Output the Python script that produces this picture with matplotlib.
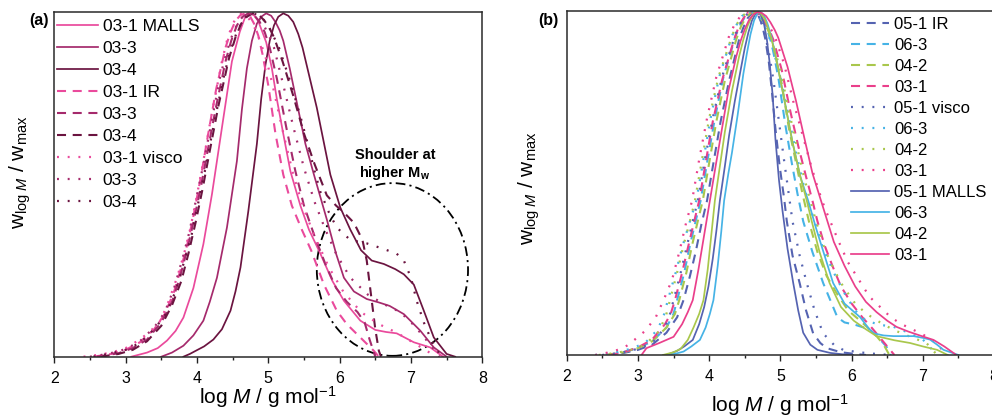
import matplotlib
matplotlib.use('Agg')
import matplotlib.pyplot as plt
from matplotlib.patches import Ellipse
from matplotlib.ticker import MultipleLocator

plt.rcParams['font.family'] = ['Liberation Sans', 'DejaVu Sans']
plt.rcParams['mathtext.fontset'] = 'custom'
plt.rcParams['mathtext.rm'] = 'Liberation Sans'
plt.rcParams['mathtext.it'] = 'Liberation Sans:italic'
plt.rcParams['mathtext.bf'] = 'Liberation Sans:bold'
plt.rcParams['lines.scale_dashes'] = False

# ---------------- data: panel (a) (log M, w/wmax) ----------------
a_malls_031 = [(3.08,0),(3.3,0.012),(3.45,0.025),(3.58,0.047),(3.7,0.075),(3.81,0.114),(3.95,0.2),(4.09,0.328),(4.21,0.473),(4.35,0.667),(4.49,0.86),(4.6,0.946),(4.67,0.986),(4.74,1.0),(4.8,0.994),(4.86,0.977),(4.97,0.916),(5.05,0.84),(5.12,0.75),(5.2,0.66),(5.31,0.54),(5.45,0.44),(5.57,0.37),(5.73,0.3),(5.9,0.22),(6.06,0.163),(6.29,0.105),(6.5,0.078),(6.65,0.072),(6.8,0.068),(6.92,0.055),(7.04,0.042),(7.27,0.027),(7.45,0)]
a_malls_033 = [(3.5,0),(3.65,0.012),(3.81,0.032),(3.95,0.062),(4.09,0.105),(4.18,0.16),(4.28,0.23),(4.42,0.376),(4.56,0.57),(4.63,0.72),(4.7,0.84),(4.77,0.92),(4.84,0.97),(4.9,0.99),(4.97,1.0),(5.04,0.993),(5.1,0.975),(5.16,0.95),(5.21,0.92),(5.3,0.84),(5.4,0.74),(5.52,0.62),(5.64,0.53),(5.82,0.4),(5.95,0.3),(6.06,0.23),(6.2,0.19),(6.38,0.168),(6.55,0.158),(6.7,0.148),(6.9,0.124),(7.13,0.076),(7.32,0.027),(7.5,0)]
a_malls_034 = [(3.81,0),(3.9,0.008),(3.99,0.018),(4.1,0.03),(4.23,0.05),(4.35,0.08),(4.47,0.134),(4.54,0.19),(4.61,0.26),(4.72,0.424),(4.84,0.62),(4.9,0.75),(4.96,0.85),(5.02,0.92),(5.08,0.965),(5.14,0.99),(5.21,1.0),(5.28,0.993),(5.35,0.975),(5.42,0.94),(5.48,0.9),(5.56,0.83),(5.68,0.725),(5.87,0.53),(6.01,0.434),(6.15,0.37),(6.3,0.31),(6.45,0.28),(6.62,0.27),(6.78,0.255),(6.9,0.24),(7.04,0.21),(7.18,0.134),(7.32,0.056),(7.5,0.008),(7.62,0)]
a_ir_031 = [(2.55,0),(2.8,0.008),(3.0,0.02),(3.2,0.042),(3.4,0.08),(3.55,0.125),(3.68,0.19),(3.78,0.26),(3.88,0.34),(3.97,0.43),(4.06,0.53),(4.15,0.64),(4.27,0.78),(4.4,0.9),(4.47,0.945),(4.54,0.978),(4.61,0.995),(4.68,1.0),(4.74,0.993),(4.8,0.97),(4.86,0.935),(4.92,0.88),(5.0,0.79),(5.1,0.65),(5.21,0.53),(5.33,0.44),(5.47,0.37),(5.6,0.31),(5.78,0.21),(5.96,0.134),(6.1,0.095),(6.29,0.056),(6.48,0.017),(6.55,0)]
a_ir_033 = [(2.6,0),(2.9,0.01),(3.1,0.025),(3.3,0.05),(3.5,0.1),(3.65,0.16),(3.76,0.23),(3.86,0.31),(3.96,0.4),(4.06,0.5),(4.15,0.6),(4.26,0.72),(4.4,0.86),(4.48,0.92),(4.56,0.965),(4.64,0.99),(4.72,1.0),(4.8,0.995),(4.88,0.975),(4.95,0.945),(5.02,0.9),(5.12,0.81),(5.25,0.67),(5.38,0.54),(5.5,0.44),(5.65,0.35),(5.8,0.27),(5.95,0.2),(6.1,0.16),(6.25,0.13),(6.35,0.1),(6.42,0.05),(6.5,0)]
a_ir_034 = [(2.65,0),(2.9,0.008),(3.1,0.02),(3.3,0.045),(3.5,0.09),(3.65,0.15),(3.78,0.22),(3.88,0.3),(3.98,0.39),(4.08,0.49),(4.18,0.6),(4.3,0.73),(4.45,0.87),(4.54,0.93),(4.62,0.97),(4.7,0.99),(4.78,1.0),(4.86,0.997),(4.94,0.98),(5.01,0.96),(5.08,0.93),(5.2,0.86),(5.35,0.76),(5.5,0.65),(5.65,0.56),(5.82,0.47),(5.95,0.44),(6.06,0.42),(6.2,0.39),(6.32,0.34),(6.38,0.28),(6.44,0.18),(6.5,0.08),(6.55,0.017),(6.58,0)]
a_visco_031 = [(2.41,0),(2.6,0.005),(2.8,0.012),(3.0,0.025),(3.2,0.05),(3.35,0.075),(3.49,0.105),(3.6,0.16),(3.72,0.23),(3.82,0.3),(3.91,0.376),(4.0,0.47),(4.09,0.57),(4.2,0.7),(4.35,0.86),(4.42,0.92),(4.49,0.965),(4.56,0.99),(4.62,1.0),(4.69,0.995),(4.76,0.975),(4.83,0.95),(4.9,0.91),(4.98,0.86),(5.05,0.8),(5.2,0.66),(5.35,0.53),(5.5,0.43),(5.65,0.35),(5.85,0.26),(6.05,0.19),(6.3,0.13),(6.55,0.095),(6.8,0.07),(7.0,0.045),(7.2,0.02),(7.35,0)]
a_visco_033 = [(2.5,0),(2.75,0.008),(3.0,0.022),(3.2,0.045),(3.4,0.085),(3.55,0.13),(3.68,0.2),(3.79,0.28),(3.89,0.36),(3.99,0.46),(4.09,0.56),(4.2,0.68),(4.33,0.82),(4.42,0.89),(4.5,0.94),(4.58,0.975),(4.66,0.995),(4.73,1.0),(4.8,0.995),(4.88,0.98),(4.95,0.96),(5.02,0.93),(5.08,0.9),(5.2,0.8),(5.35,0.67),(5.5,0.55),(5.65,0.45),(5.8,0.37),(5.95,0.3),(6.15,0.23),(6.4,0.18),(6.65,0.15),(6.85,0.13),(7.05,0.09),(7.25,0.04),(7.4,0)]
a_visco_034 = [(2.55,0),(2.8,0.01),(3.0,0.02),(3.2,0.04),(3.4,0.08),(3.55,0.12),(3.7,0.19),(3.81,0.27),(3.92,0.35),(4.02,0.45),(4.12,0.55),(4.23,0.67),(4.37,0.81),(4.46,0.885),(4.55,0.94),(4.63,0.975),(4.71,0.995),(4.78,1.0),(4.86,0.995),(4.94,0.98),(5.01,0.96),(5.08,0.93),(5.15,0.9),(5.31,0.8),(5.45,0.7),(5.54,0.63),(5.65,0.54),(5.73,0.48),(5.85,0.42),(5.96,0.376),(6.15,0.34),(6.38,0.33),(6.6,0.315),(6.8,0.3),(6.9,0.28),(7.0,0.23),(7.08,0.163),(7.18,0.1),(7.27,0.056),(7.42,0)]

# ---------------- data: panel (b) ----------------
b_ir_051 = [(2.55,0),(2.8,0.006),(3.0,0.015),(3.2,0.03),(3.4,0.065),(3.55,0.11),(3.64,0.16),(3.73,0.23),(3.81,0.3),(3.89,0.38),(3.97,0.45),(4.06,0.56),(4.16,0.68),(4.28,0.8),(4.42,0.92),(4.48,0.955),(4.54,0.982),(4.6,0.997),(4.64,1.0),(4.69,0.99),(4.74,0.965),(4.79,0.92),(4.84,0.85),(4.88,0.77),(4.93,0.66),(4.99,0.55),(5.05,0.46),(5.09,0.39),(5.17,0.29),(5.27,0.21),(5.36,0.13),(5.46,0.063),(5.56,0.035),(5.65,0.02),(5.85,0.008),(6.05,0.003),(6.2,0)]
b_ir_063 = [(2.6,0),(2.8,0.008),(3.0,0.02),(3.2,0.04),(3.4,0.08),(3.5,0.12),(3.55,0.16),(3.65,0.24),(3.73,0.32),(3.81,0.39),(3.88,0.45),(3.97,0.56),(4.08,0.69),(4.2,0.81),(4.37,0.93),(4.44,0.965),(4.51,0.988),(4.58,0.999),(4.64,1.0),(4.7,0.993),(4.76,0.975),(4.82,0.945),(4.88,0.905),(4.97,0.81),(5.07,0.67),(5.16,0.56),(5.24,0.47),(5.32,0.39),(5.45,0.3),(5.6,0.21),(5.72,0.15),(5.8,0.11),(5.9,0.095),(6.05,0.088),(6.25,0.075),(6.38,0.05),(6.49,0.024),(6.55,0)]
b_ir_042 = [(2.55,0),(2.8,0.008),(3.0,0.02),(3.2,0.04),(3.4,0.08),(3.52,0.12),(3.58,0.16),(3.68,0.24),(3.76,0.32),(3.84,0.39),(3.91,0.45),(4.0,0.56),(4.1,0.68),(4.22,0.8),(4.38,0.92),(4.45,0.96),(4.52,0.985),(4.59,0.998),(4.65,1.0),(4.72,0.99),(4.78,0.97),(4.84,0.94),(4.9,0.9),(5.02,0.79),(5.12,0.66),(5.22,0.56),(5.31,0.47),(5.4,0.39),(5.52,0.3),(5.65,0.23),(5.79,0.18),(5.95,0.13),(6.12,0.1),(6.25,0.075),(6.35,0.055),(6.45,0.03),(6.53,0)]
b_ir_031 = [(2.6,0),(2.8,0.008),(3.0,0.022),(3.2,0.045),(3.38,0.09),(3.46,0.12),(3.52,0.16),(3.62,0.24),(3.71,0.32),(3.79,0.39),(3.86,0.45),(3.95,0.56),(4.05,0.68),(4.18,0.8),(4.35,0.92),(4.42,0.96),(4.49,0.985),(4.56,0.998),(4.63,1.0),(4.7,0.993),(4.77,0.975),(4.84,0.95),(4.9,0.92),(5.02,0.83),(5.14,0.71),(5.25,0.61),(5.36,0.52),(5.45,0.45),(5.52,0.39),(5.62,0.32),(5.73,0.26),(5.85,0.2),(6.0,0.15),(6.15,0.11),(6.28,0.08),(6.4,0.05),(6.5,0.025),(6.6,0)]
b_visco_051 = [(2.5,0),(2.75,0.006),(3.0,0.018),(3.2,0.035),(3.38,0.08),(3.45,0.12),(3.5,0.16),(3.6,0.24),(3.69,0.32),(3.77,0.39),(3.84,0.45),(3.94,0.57),(4.05,0.69),(4.18,0.81),(4.36,0.93),(4.43,0.965),(4.5,0.988),(4.56,0.998),(4.61,1.0),(4.67,0.993),(4.73,0.97),(4.79,0.93),(4.85,0.87),(4.91,0.79),(4.98,0.68),(5.05,0.57),(5.11,0.48),(5.17,0.39),(5.27,0.29),(5.37,0.21),(5.48,0.13),(5.6,0.063),(5.75,0.03),(5.88,0.015),(6.1,0.008),(6.35,0.003),(6.55,0)]
b_visco_063 = [(2.4,0),(2.65,0.006),(2.9,0.018),(3.1,0.035),(3.28,0.075),(3.37,0.12),(3.42,0.16),(3.53,0.24),(3.63,0.32),(3.73,0.39),(3.82,0.45),(3.92,0.57),(4.02,0.69),(4.14,0.81),(4.32,0.93),(4.39,0.965),(4.46,0.988),(4.53,0.998),(4.6,1.0),(4.67,0.993),(4.74,0.975),(4.81,0.945),(4.88,0.905),(5.0,0.81),(5.12,0.69),(5.22,0.59),(5.32,0.5),(5.4,0.44),(5.48,0.39),(5.6,0.31),(5.75,0.24),(5.9,0.18),(6.05,0.13),(6.2,0.1),(6.4,0.088),(6.59,0.082),(6.8,0.065),(7.0,0.045),(7.2,0)]
b_visco_042 = [(2.45,0),(2.7,0.006),(2.9,0.015),(3.1,0.03),(3.3,0.07),(3.4,0.12),(3.45,0.16),(3.55,0.24),(3.64,0.32),(3.73,0.39),(3.8,0.45),(3.9,0.57),(4.0,0.69),(4.13,0.81),(4.32,0.93),(4.39,0.965),(4.46,0.988),(4.53,0.998),(4.6,1.0),(4.67,0.993),(4.74,0.978),(4.81,0.955),(4.88,0.92),(5.0,0.83),(5.12,0.71),(5.23,0.61),(5.33,0.52),(5.42,0.45),(5.5,0.39),(5.62,0.31),(5.75,0.25),(5.88,0.2),(6.05,0.15),(6.21,0.12),(6.4,0.095),(6.59,0.073),(6.8,0.055),(7.05,0.035),(7.2,0)]
b_visco_031 = [(2.4,0),(2.6,0.008),(2.8,0.02),(2.95,0.044),(3.1,0.07),(3.25,0.11),(3.36,0.16),(3.48,0.22),(3.58,0.3),(3.67,0.38),(3.76,0.45),(3.86,0.57),(3.97,0.69),(4.1,0.81),(4.28,0.93),(4.36,0.965),(4.44,0.988),(4.52,0.998),(4.6,1.0),(4.68,0.994),(4.76,0.98),(4.84,0.96),(4.92,0.93),(5.05,0.85),(5.18,0.74),(5.3,0.65),(5.42,0.56),(5.52,0.49),(5.62,0.43),(5.7,0.39),(5.82,0.33),(5.95,0.27),(6.1,0.22),(6.25,0.17),(6.4,0.14),(6.55,0.11),(6.7,0.09),(6.85,0.075),(7.0,0.06),(7.15,0.04),(7.35,0)]
b_malls_051 = [(3.4,0),(3.55,0.012),(3.65,0.025),(3.77,0.044),(3.86,0.09),(3.93,0.14),(3.99,0.2),(4.05,0.28),(4.1,0.36),(4.15,0.45),(4.22,0.55),(4.28,0.64),(4.36,0.74),(4.45,0.84),(4.5,0.895),(4.55,0.94),(4.6,0.975),(4.65,0.995),(4.69,1.0),(4.73,0.99),(4.77,0.965),(4.81,0.92),(4.85,0.85),(4.89,0.76),(4.93,0.63),(4.98,0.51),(5.03,0.42),(5.1,0.31),(5.18,0.21),(5.25,0.13),(5.32,0.065),(5.42,0.03),(5.52,0.015),(5.7,0.006),(5.88,0.002),(6.02,0)]
b_malls_063 = [(3.4,0),(3.55,0.005),(3.64,0.01),(3.75,0.025),(3.87,0.044),(3.95,0.08),(4.01,0.12),(4.06,0.16),(4.12,0.26),(4.17,0.36),(4.21,0.45),(4.27,0.53),(4.32,0.59),(4.4,0.7),(4.48,0.82),(4.53,0.88),(4.58,0.935),(4.63,0.975),(4.68,0.997),(4.72,1.0),(4.77,0.99),(4.82,0.965),(4.87,0.93),(4.92,0.885),(5.05,0.75),(5.17,0.62),(5.28,0.52),(5.39,0.45),(5.5,0.37),(5.62,0.29),(5.74,0.21),(5.9,0.15),(6.12,0.11),(6.25,0.075),(6.31,0.063),(6.45,0.057),(6.59,0.055),(6.87,0.055),(7.0,0.05),(7.1,0.045),(7.2,0.03),(7.29,0.015),(7.5,0)]
b_malls_042 = [(3.35,0),(3.5,0.008),(3.6,0.018),(3.7,0.044),(3.78,0.08),(3.86,0.12),(3.92,0.16),(3.98,0.25),(4.03,0.35),(4.08,0.45),(4.15,0.55),(4.22,0.65),(4.32,0.77),(4.42,0.87),(4.48,0.92),(4.54,0.96),(4.6,0.987),(4.66,1.0),(4.72,0.997),(4.78,0.98),(4.85,0.94),(4.92,0.885),(5.05,0.75),(5.17,0.62),(5.28,0.52),(5.37,0.45),(5.44,0.39),(5.55,0.3),(5.69,0.21),(5.85,0.14),(6.03,0.1),(6.2,0.075),(6.35,0.055),(6.6,0.043),(6.82,0.035),(7.0,0.025),(7.2,0.015),(7.35,0)]
b_malls_031 = [(3.05,0),(3.12,0.02),(3.3,0.035),(3.5,0.053),(3.62,0.09),(3.7,0.125),(3.77,0.16),(3.85,0.25),(3.93,0.35),(4.01,0.45),(4.09,0.55),(4.18,0.66),(4.27,0.77),(4.38,0.87),(4.44,0.915),(4.5,0.95),(4.56,0.977),(4.62,0.993),(4.68,1.0),(4.74,0.997),(4.8,0.988),(4.86,0.97),(4.92,0.948),(4.97,0.925),(5.1,0.84),(5.22,0.74),(5.35,0.62),(5.45,0.53),(5.6,0.43),(5.75,0.33),(5.9,0.26),(6.05,0.2),(6.2,0.155),(6.35,0.125),(6.5,0.1),(6.63,0.082),(6.8,0.068),(7.0,0.054),(7.15,0.044),(7.3,0.025),(7.47,0)]

a_labels = ['03-1 MALLS', '03-3', '03-4', '03-1 IR', '03-3', '03-4', '03-1 visco', '03-3', '03-4']
b_labels = ['05-1 IR', '06-3', '04-2', '03-1', '05-1 visco', '06-3', '04-2', '03-1',
            '05-1 MALLS', '06-3', '04-2', '03-1']

# ---------------- styles ----------------
A_PINK, A_MED, A_DARK = '#EA4A9C', '#A52A6C', '#6B1440'
B_BLUE, B_LBLUE, B_GREEN, B_PINK = '#5563B1', '#46B3E6', '#A9C74C', '#EA3F8B'
SOLID = dict(ls='-', lw=1.25)
DASH = dict(ls=(0, (6.5, 4.8)), lw=1.5)
DOT = dict(ls=(0, (1.4, 6.3)), lw=1.6)

fig = plt.figure(figsize=(9.92, 4.16), dpi=100)
ax_a = fig.add_axes([54.3/992, (416-356.7)/416, 428/992, 344.4/416])
ax_b = fig.add_axes([566.7/992, (416-355)/416, 427.4/992, 344/416])

def draw(ax, pts, color, style, label):
    xs = [p[0] for p in pts]
    ys = [p[1] for p in pts]
    return ax.plot(xs, ys, color=color, label=label, **style)[0]

ha = []
for pts, c, lab in [(a_malls_031, A_PINK, a_labels[0]), (a_malls_033, A_MED, a_labels[1]), (a_malls_034, A_DARK, a_labels[2])]:
    ha.append(draw(ax_a, pts, c, SOLID, lab))
for pts, c, lab in [(a_ir_031, A_PINK, a_labels[3]), (a_ir_033, A_MED, a_labels[4]), (a_ir_034, A_DARK, a_labels[5])]:
    ha.append(draw(ax_a, pts, c, DASH, lab))
for pts, c, lab in [(a_visco_031, A_PINK, a_labels[6]), (a_visco_033, A_MED, a_labels[7]), (a_visco_034, A_DARK, a_labels[8])]:
    ha.append(draw(ax_a, pts, c, DOT, lab))

hb = []
for pts, c, lab in [(b_ir_051, B_BLUE, b_labels[0]), (b_ir_063, B_LBLUE, b_labels[1]), (b_ir_042, B_GREEN, b_labels[2]), (b_ir_031, B_PINK, b_labels[3])]:
    hb.append(draw(ax_b, pts, c, DASH, lab))
for pts, c, lab in [(b_visco_051, B_BLUE, b_labels[4]), (b_visco_063, B_LBLUE, b_labels[5]), (b_visco_042, B_GREEN, b_labels[6]), (b_visco_031, B_PINK, b_labels[7])]:
    hb.append(draw(ax_b, pts, c, DOT, lab))
for pts, c, lab in [(b_malls_051, B_BLUE, b_labels[8]), (b_malls_063, B_LBLUE, b_labels[9]), (b_malls_042, B_GREEN, b_labels[10]), (b_malls_031, B_PINK, b_labels[11])]:
    hb.append(draw(ax_b, pts, c, SOLID, lab))

ell = Ellipse((6.74, 0.254), 2.12, 0.503, fill=False, edgecolor='black', lw=1.3,
              ls=(0, (7, 3, 1.5, 3)))
ax_a.add_patch(ell)

for ax in (ax_a, ax_b):
    ax.set_xlim(2, 8)
    ax.set_ylim(0, 1.003)
    ax.xaxis.set_major_locator(MultipleLocator(1))
    ax.xaxis.set_minor_locator(MultipleLocator(0.5))
    ax.tick_params(axis='x', which='major', direction='out', length=4.5, width=1.0,
                   labelsize=11.5, pad=5.5, color='#222222')
    ax.tick_params(axis='x', which='minor', direction='out', length=2.5, width=1.0, color='#222222')
    ax.tick_params(axis='y', which='both', left=False, labelleft=False)
    for s in ax.spines.values():
        s.set_linewidth(1.1)
        s.set_color('#2a2a2a')

ax_a.legend(handles=ha, loc='upper left', bbox_to_anchor=(0.006, 0.982), frameon=False,
            fontsize=12.5, handlelength=2.35, handletextpad=0.3, labelspacing=0.40,
            borderpad=0, borderaxespad=0)
ax_b.legend(handles=hb, loc='upper left', bbox_to_anchor=(0.665, 0.984), frameon=False,
            fontsize=12, handlelength=2.3, handletextpad=0.3, labelspacing=0.36,
            borderpad=0, borderaxespad=0)

ylab = r'w$_{\mathrm{log}\ M}$ / w$_{\mathrm{max}}$'
xlab = r'log $M$ / g mol$^{-1}$'
fig.text(20/992, 1-172/416, ylab, rotation=90, ha='center', va='center', fontsize=15)
fig.text(529/992, 1-188/416, ylab, rotation=90, ha='center', va='center', fontsize=15)
fig.text(268/992, 1-397/416, xlab, ha='center', va='center', fontsize=15)
fig.text(780/992, 1-405/416, xlab, ha='center', va='center', fontsize=15)
fig.text(39/992, 1-21/416, '(a)', ha='center', va='center', fontsize=11.5, fontweight='bold')
fig.text(548/992, 1-21/416, '(b)', ha='center', va='center', fontsize=11.5, fontweight='bold')
fig.text(395/992, 1-165/416, 'Shoulder at\nhigher M$_{\\mathbf{w}}$', ha='center', va='center',
         fontsize=10.5, fontweight='bold', linespacing=1.1)

fig.savefig('out.png', dpi=100)
